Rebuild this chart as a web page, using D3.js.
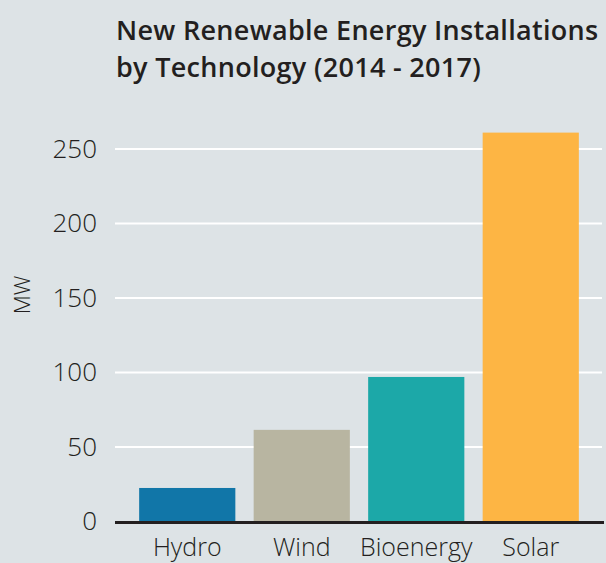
<!DOCTYPE html>
<html>
<head>
<meta charset="utf-8">
<script src="https://cdn.jsdelivr.net/npm/d3@7"></script>
<style>
  body { margin: 0; background: #dde3e6; }
  svg { display: block; }
</style>
</head>
<body>
<div id="chart"></div>
<script>
const categories = ["Hydro", "Wind", "Bioenergy", "Solar"];
const values = [22.5, 61.5, 97, 261];
const colors = ["#1176a8", "#b8b5a1", "#1ca8a8", "#fdb544"];
const yTicks = [0, 50, 100, 150, 200, 250];
const titleLines = ["New Renewable Energy Installations", "by Technology (2014 - 2017)"];

const width = 606, height = 563;
const svg = d3.select("#chart").append("svg")
  .attr("width", width).attr("height", height);

svg.append("rect").attr("width", width).attr("height", height).attr("fill", "#dde3e6");

const x = d3.scaleBand().domain(categories).range([130, 588])
  .paddingInner(0.16).paddingOuter(0.08);
const y = d3.scaleLinear().domain([0, 250]).range([521.5, 149]);

// title
svg.append("text")
  .attr("x", 116).attr("y", 40)
  .attr("font-family", "Open Sans").attr("font-weight", 600)
  .attr("font-size", 27).attr("letter-spacing", 0.3).attr("fill", "#231f20")
  .selectAll("tspan").data(titleLines).join("tspan")
  .attr("x", 116).attr("dy", (d, i) => i === 0 ? 0 : 37)
  .text(d => d);

// gridlines
svg.append("g").selectAll("line").data(yTicks.filter(d => d > 0)).join("line")
  .attr("x1", 115).attr("x2", 602)
  .attr("y1", d => y(d)).attr("y2", d => y(d))
  .attr("stroke", "#ffffff").attr("stroke-width", 2);

// y axis labels
const yAxis = svg.append("g").attr("transform", "translate(97,0)")
  .call(d3.axisLeft(y).tickValues(yTicks).tickSize(0).tickPadding(0));
yAxis.select(".domain").remove();
yAxis.selectAll("text")
  .attr("font-family", "Open Sans").attr("font-weight", 300)
  .attr("font-size", 26).attr("fill", "#231f20");

svg.append("text")
  .attr("transform", "translate(30,295) rotate(-90)")
  .attr("text-anchor", "middle")
  .attr("font-family", "Open Sans").attr("font-weight", 300)
  .attr("font-size", 22).attr("fill", "#231f20")
  .text("MW");

// bars
svg.append("g").selectAll("rect").data(categories).join("rect")
  .attr("x", d => x(d))
  .attr("width", x.bandwidth())
  .attr("y", (d, i) => y(values[i]))
  .attr("height", (d, i) => y(0) - y(values[i]))
  .attr("fill", (d, i) => colors[i]);

// baseline
svg.append("line")
  .attr("x1", 115).attr("x2", 604)
  .attr("y1", y(0) + 1).attr("y2", y(0) + 1)
  .attr("stroke", "#231f20").attr("stroke-width", 3);

// x labels
const xAxis = svg.append("g").attr("transform", `translate(0,${y(0) + 3})`)
  .call(d3.axisBottom(x).tickSize(0).tickPadding(14));
xAxis.select(".domain").remove();
xAxis.selectAll("text")
  .attr("dy", null).attr("y", 31)
  .attr("font-family", "Open Sans").attr("font-weight", 300)
  .attr("font-size", 25).attr("fill", "#231f20");
</script>
</body>
</html>
